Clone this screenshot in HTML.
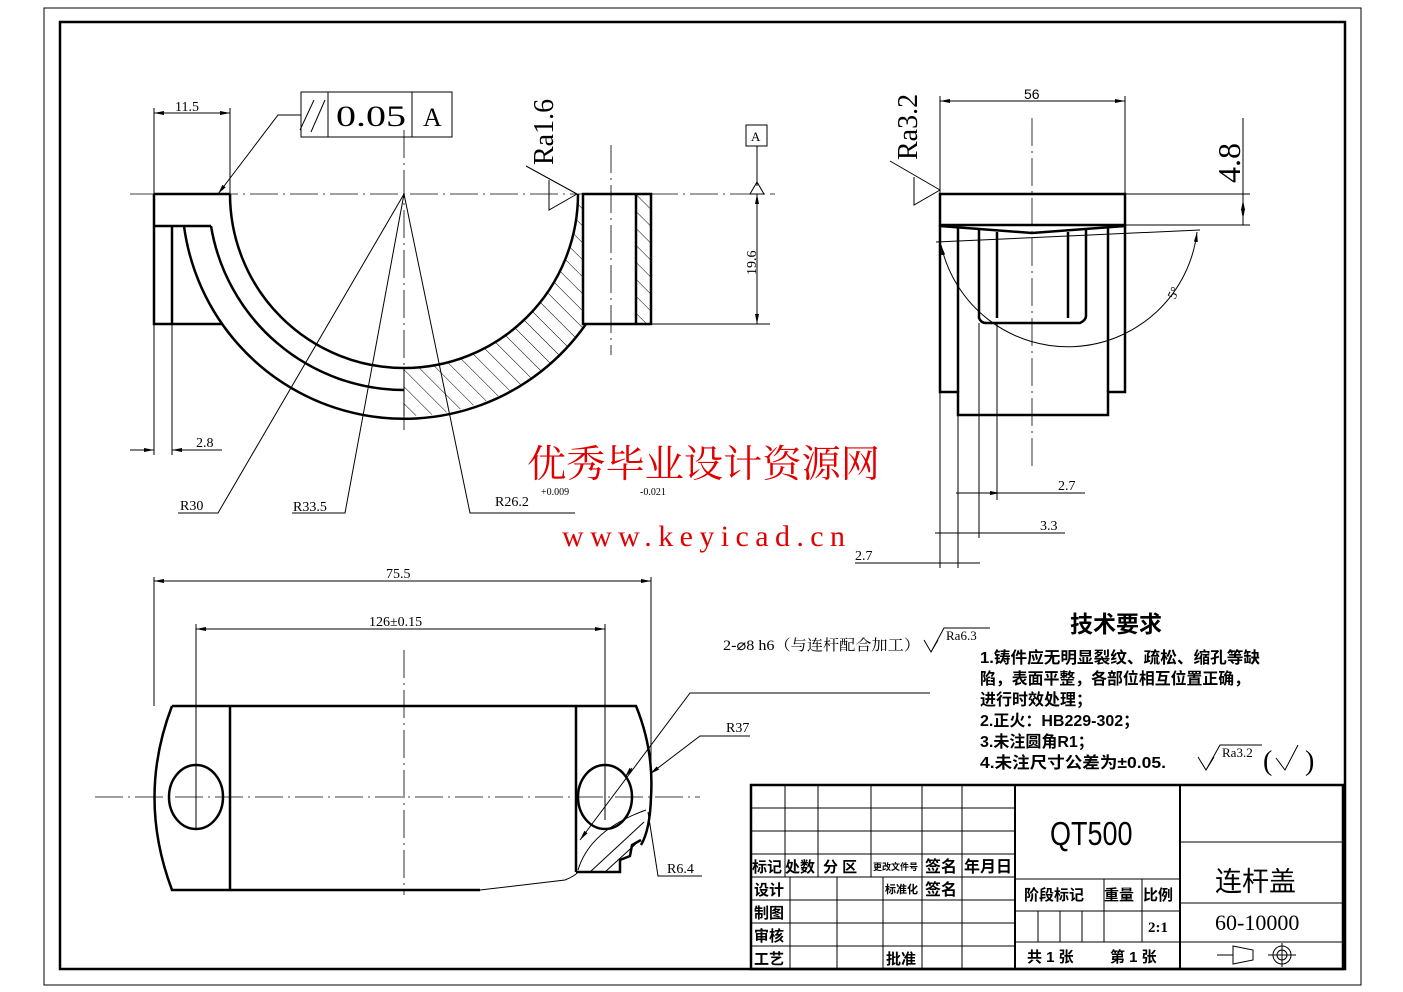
<!DOCTYPE html>
<html><head><meta charset="utf-8"><style>
html,body{margin:0;padding:0;background:#fff;}
svg{display:block;}
text{font-family:"Liberation Serif","Noto Serif CJK SC","Noto Sans CJK SC",serif;fill:#000;}
.cj{font-family:"Liberation Sans","Noto Sans CJK SC",sans-serif;font-weight:bold;}
.t{stroke:#000;stroke-width:2.5;fill:none;}
.n{stroke:#000;stroke-width:1;fill:none;}
.c{stroke:#000;stroke-width:0.8;fill:none;stroke-dasharray:28 5 2 5;}
</style></head><body>
<svg width="1403" height="992" viewBox="0 0 1403 992" xmlns="http://www.w3.org/2000/svg">
<defs>
<pattern id="h" width="12" height="12" patternUnits="userSpaceOnUse" patternTransform="rotate(-45)">
<line x1="0" y1="0" x2="0" y2="12" stroke="#000" stroke-width="1"/></pattern>
<marker id="a" markerWidth="10" markerHeight="6" refX="10" refY="3" orient="auto-start-reverse" markerUnits="userSpaceOnUse"><path d="M0,1 L10,3 L0,5z" fill="#000"/></marker>
</defs>
<rect x="0" y="0" width="1403" height="992" fill="#fff"/>
<rect x="44" y="8" width="1317" height="977" class="n"/>
<rect x="60" y="22" width="1285" height="947" class="t"/>

<!-- ===== top-left view ===== -->
<line x1="130" y1="194" x2="775" y2="194" class="c"/>
<line x1="404" y1="130" x2="404" y2="430" class="c"/>
<line x1="611" y1="145" x2="611" y2="355" class="c"/>
<path d="M404,368 A174,174 0 0 0 578,194 L583,194 L583,324 L586,324 A222,222 0 0 1 404,416 Z" fill="url(#h)"/>
<rect x="636" y="194" width="15" height="130" fill="url(#h)"/>
<path d="M154,194 L230,194 M154,194 L154,324 L222,324 M154,226 L211,226 M172,226 L172,324" class="t"/>
<path d="M230,194 A174,174 0 0 0 578,194" class="t"/>
<path d="M211,226 A196,196 0 0 0 404,390" class="t"/>
<path d="M184,226 A222,222 0 0 0 586,324" class="t"/>
<rect x="583" y="194" width="68" height="130" class="t"/>
<line x1="636" y1="194" x2="636" y2="324" class="t"/>
<line x1="404" y1="368" x2="404" y2="416" class="n"/>
<line x1="154" y1="324" x2="154" y2="455" class="n"/>
<line x1="172" y1="324" x2="172" y2="455" class="n"/>
<line x1="230" y1="194" x2="230" y2="108" class="n"/>
<line x1="154" y1="194" x2="154" y2="108" class="n"/>
<line x1="154" y1="113" x2="230" y2="113" class="n" marker-start="url(#a)" marker-end="url(#a)"/>
<text x="175" y="111" font-size="14">11.5</text>
<line x1="130" y1="450" x2="154" y2="450" class="n" marker-end="url(#a)"/>
<line x1="172" y1="450" x2="222" y2="450" class="n" marker-start="url(#a)"/>
<text x="196" y="447" font-size="14">2.8</text>
<rect x="301" y="92" width="151" height="45" class="n"/>
<line x1="328" y1="92" x2="328" y2="137" class="n"/><line x1="412" y1="92" x2="412" y2="137" class="n"/>
<line x1="300" y1="130" x2="314" y2="100" class="n"/><line x1="311" y1="132" x2="325" y2="100" class="n"/>
<text x="336" y="126" font-size="30" textLength="70" lengthAdjust="spacingAndGlyphs">0.05</text><text x="423" y="126" font-size="26">A</text>
<path d="M301,115 L278,115 L218,194" class="n" marker-end="url(#a)"/>
<text transform="translate(553,165) rotate(-90)" font-size="28">Ra1.6</text>
<path d="M526,166 L577,194 M549,180 L549,210 L577,194" class="n"/>
<rect x="746" y="125" width="21" height="21" class="n"/><text x="751" y="141" font-size="13">A</text>
<path d="M757,146 L757,186 M750,194 L757,182 L764,194 Z" class="n"/>
<line x1="651" y1="324" x2="770" y2="324" class="n"/>
<line x1="757" y1="194" x2="757" y2="324" class="n" marker-start="url(#a)" marker-end="url(#a)"/>
<text transform="translate(756,275) rotate(-90)" font-size="14">19.6</text>
<path d="M404,194 L218,513 L178,513" class="n"/>
<text x="180" y="510" font-size="14">R30</text>
<path d="M404,194 L345,513 L292,513" class="n"/>
<text x="293" y="511" font-size="14">R33.5</text>
<path d="M404,194 L470,513 L575,513" class="n"/>
<text x="495" y="506" font-size="14">R26.2</text>
<text x="541" y="495" font-size="10">+0.009</text>
<text x="640" y="495" font-size="10">-0.021</text>

<!-- watermark -->
<text x="527" y="477" font-size="38" textLength="353" lengthAdjust="spacingAndGlyphs" style="fill:#e00000;font-family:'Noto Serif CJK SC','Noto Sans CJK SC',serif">优秀毕业设计资源网</text>
<text x="562" y="546" font-size="30" textLength="283" lengthAdjust="spacing" style="fill:#e00000">www.keyicad.cn</text>

<!-- ===== right view ===== -->
<line x1="1032" y1="118" x2="1032" y2="470" class="c"/>
<line x1="940" y1="194" x2="940" y2="96" class="n"/>
<line x1="1125" y1="194" x2="1125" y2="96" class="n"/>
<line x1="940" y1="101" x2="1125" y2="101" class="n" marker-start="url(#a)" marker-end="url(#a)"/>
<text x="1024" y="99" font-size="14" style="font-family:'Liberation Sans',sans-serif">56</text>
<text transform="translate(917,160) rotate(-90)" font-size="28">Ra3.2</text>
<path d="M890,161 L940,190 M914,177 L914,205 L940,190" class="n"/>
<rect x="940" y="194" width="185" height="31" class="t"/>
<path d="M940,225 L940,392 L958,392 L958,415 L1108,415 L1108,392 L1125,392 L1125,225" class="t"/>
<path d="M958,227 L958,392 M1108,227 L1108,392" class="t"/>
<path d="M979,230 L979,318 Q981,323 986,323 L1080,323 Q1086,320 1086,316 L1086,230" class="t"/>
<path d="M997,232 L997,318 M1068,232 L1068,318" class="t"/>
<path d="M940,226 L1032,233 L1125,226" class="t"/>
<line x1="1125" y1="194" x2="1250" y2="194" class="n"/>
<line x1="1125" y1="225" x2="1250" y2="225" class="n"/>
<line x1="1243" y1="118" x2="1243" y2="225" class="n"/>
<line x1="1243" y1="200" x2="1243" y2="219" class="n" marker-start="url(#a)" marker-end="url(#a)"/>
<text transform="translate(1240,183) rotate(-90)" font-size="32">4.8</text>
<line x1="936" y1="242" x2="1200" y2="230" class="n"/>
<path d="M941,245 A130,130 0 0 0 1197,232" class="n" marker-start="url(#a)" marker-end="url(#a)"/>
<text transform="translate(1175,300) rotate(-65)" font-size="13">5°</text>
<line x1="940" y1="392" x2="940" y2="568" class="n"/>
<line x1="958" y1="415" x2="958" y2="568" class="n"/>
<line x1="979" y1="323" x2="979" y2="538" class="n"/>
<line x1="997" y1="323" x2="997" y2="500" class="n"/>
<line x1="956" y1="493" x2="1085" y2="493" class="n"/>
<line x1="979" y1="493" x2="1000" y2="493" class="n" marker-end="url(#a)"/>
<text x="1058" y="490" font-size="14">2.7</text>
<line x1="935" y1="533" x2="1065" y2="533" class="n"/>
<text x="1040" y="530" font-size="14">3.3</text>
<line x1="855" y1="563" x2="980" y2="563" class="n"/>
<text x="855" y="560" font-size="14">2.7</text>

<!-- ===== bottom view ===== -->
<line x1="95" y1="797" x2="700" y2="797" class="c"/>
<line x1="404" y1="650" x2="404" y2="895" class="c"/>
<line x1="154" y1="706" x2="154" y2="577" class="n"/>
<line x1="651" y1="770" x2="651" y2="577" class="n"/>
<line x1="154" y1="581" x2="651" y2="581" class="n" marker-start="url(#a)" marker-end="url(#a)"/>
<text x="386" y="578" font-size="14">75.5</text>
<line x1="196" y1="830" x2="196" y2="624" class="n"/>
<line x1="605" y1="820" x2="605" y2="624" class="n"/>
<line x1="196" y1="629" x2="605" y2="629" class="n" marker-start="url(#a)" marker-end="url(#a)"/>
<text x="369" y="626" font-size="14">126±0.15</text>
<path d="M172,706 L636,706 Q654,750 651,797 Q650,830 641,845 M172,706 Q137,797 172,890 L480,890" class="t"/>
<path d="M480,890 L565,880 Q575,876 578,872" class="n"/>
<line x1="230" y1="706" x2="230" y2="890" class="t"/>
<line x1="576" y1="706" x2="576" y2="872" class="t"/>
<path d="M576,872 L620,872 L620,860 L630,856 L632,845 L641,840" class="t"/>
<ellipse cx="196" cy="797" rx="27" ry="32" class="t"/>
<ellipse cx="605" cy="797" rx="27" ry="32" class="t"/>
<path d="M578,870 Q590,830 646,810 M590,872 L644,822 M605,872 L640,840" class="n"/>
<path d="M580,840 L690,693 L930,693" class="n" marker-start="url(#a)"/>
<line x1="632" y1="768" x2="625" y2="777" class="n" marker-end="url(#a)"/>
<text x="723" y="650" font-size="15" textLength="197" lengthAdjust="spacingAndGlyphs" style="font-family:'Liberation Serif','Noto Serif CJK SC',serif">2-⌀8 h6（与连杆配合加工）</text>
<path d="M924,640 L931,652 L938,640 M931,652 L944,628 L990,628" class="n"/>
<text x="946" y="640" font-size="13">Ra6.3</text>
<path d="M650,774 L700,736 L750,736" class="n" marker-start="url(#a)"/>
<text x="726" y="732" font-size="14">R37</text>
<path d="M648,812 L658,876 L702,876" class="n"/>
<text x="667" y="873" font-size="14">R6.4</text>

<!-- ===== tech requirements ===== -->
<text x="1070" y="632" font-size="23" class="cj">技术要求</text>
<text x="980" y="663" font-size="16" class="cj" textLength="280" lengthAdjust="spacingAndGlyphs">1.铸件应无明显裂纹、疏松、缩孔等缺</text>
<text x="980" y="684" font-size="16" class="cj" textLength="270" lengthAdjust="spacingAndGlyphs">陷，表面平整，各部位相互位置正确，</text>
<text x="980" y="705" font-size="16" class="cj">进行时效处理；</text>
<text x="980" y="726" font-size="16" class="cj">2.正火：HB229-302；</text>
<text x="980" y="747" font-size="16" class="cj">3.未注圆角R1；</text>
<text x="980" y="768" font-size="16" class="cj" textLength="186" lengthAdjust="spacingAndGlyphs">4.未注尺寸公差为±0.05.</text>
<path d="M1198,757 L1206,770 L1214,757 M1206,770 L1220,745 L1262,745" class="n"/>
<text x="1222" y="757" font-size="13">Ra3.2</text>
<text x="1263" y="770" font-size="28">(</text><text x="1305" y="770" font-size="28">)</text>
<path d="M1276,758 L1285,770 L1298,745" class="n"/>

<!-- ===== title block ===== -->
<rect x="751" y="785" width="592" height="184" class="t"/>
<g class="n">
<line x1="751" y1="808" x2="1015" y2="808"/><line x1="751" y1="831" x2="1015" y2="831"/>
<line x1="751" y1="854" x2="1015" y2="854"/><line x1="751" y1="877" x2="1015" y2="877"/>
<line x1="751" y1="900" x2="1015" y2="900"/><line x1="751" y1="923" x2="1015" y2="923"/>
<line x1="751" y1="946" x2="1015" y2="946"/>
<line x1="785" y1="785" x2="785" y2="877"/><line x1="818" y1="785" x2="818" y2="877"/>
<line x1="871" y1="785" x2="871" y2="877"/>
<line x1="922" y1="785" x2="922" y2="969"/><line x1="962" y1="785" x2="962" y2="969"/>
<line x1="790" y1="877" x2="790" y2="969"/><line x1="837" y1="877" x2="837" y2="969"/>
<line x1="883" y1="877" x2="883" y2="969"/>
<line x1="1015" y1="785" x2="1015" y2="969" stroke-width="2"/>
<line x1="1180" y1="785" x2="1180" y2="969" stroke-width="2"/>
<line x1="1015" y1="879" x2="1180" y2="879"/><line x1="1015" y1="911" x2="1180" y2="911"/>
<line x1="1015" y1="942" x2="1180" y2="942"/>
<line x1="1104" y1="879" x2="1104" y2="942"/><line x1="1142" y1="879" x2="1142" y2="942"/>
<line x1="1038" y1="911" x2="1038" y2="942"/><line x1="1060" y1="911" x2="1060" y2="942"/><line x1="1082" y1="911" x2="1082" y2="942"/>
<line x1="1180" y1="842" x2="1343" y2="842"/><line x1="1180" y1="903" x2="1343" y2="903"/>
<line x1="1180" y1="942" x2="1343" y2="942"/>
</g>
<text x="752" y="872" class="cj" font-size="15">标记</text><text x="785" y="872" class="cj" font-size="15">处数</text>
<text x="823" y="872" class="cj" font-size="15">分 区</text><text x="873" y="870" class="cj" font-size="9">更改文件号</text>
<text x="925" y="872" class="cj" font-size="16">签名</text><text x="964" y="872" class="cj" font-size="16">年月日</text>
<text x="754" y="895" class="cj" font-size="15">设计</text><text x="754" y="918" class="cj" font-size="15">制图</text>
<text x="754" y="941" class="cj" font-size="15">审核</text><text x="754" y="964" class="cj" font-size="15">工艺</text>
<text x="885" y="893" class="cj" font-size="11">标准化</text><text x="925" y="895" class="cj" font-size="16">签名</text>
<text x="886" y="964" class="cj" font-size="15">批准</text>
<text x="1024" y="900" class="cj" font-size="15">阶段标记</text><text x="1104" y="900" class="cj" font-size="15">重量</text><text x="1143" y="900" class="cj" font-size="15">比例</text>
<text x="1148" y="932" font-size="15" style="font-family:'Liberation Serif',serif;font-weight:bold">2:1</text>
<text x="1027" y="962" class="cj" font-size="15">共 1 张</text><text x="1110" y="962" class="cj" font-size="15">第 1 张</text>
<text x="1050" y="845" font-size="30" style="font-family:'Liberation Sans',sans-serif" transform="translate(1050,845) scale(0.9,1.1) translate(-1050,-845)">QT500</text>
<text x="1215" y="891" font-size="27" style="font-family:'Noto Sans CJK SC',sans-serif">连杆盖</text>
<text x="1215" y="930" font-size="22" style="font-family:'Liberation Serif',serif">60-10000</text>
<path d="M1217,955 L1233,955 M1233,946 L1253,950 L1253,960 L1233,964 Z" class="n"/>
<circle cx="1282" cy="955" r="9" class="n"/><circle cx="1282" cy="955" r="5" class="n"/>
<path d="M1268,955 L1296,955 M1282,943 L1282,967" class="n"/>
</svg>
</body></html>
